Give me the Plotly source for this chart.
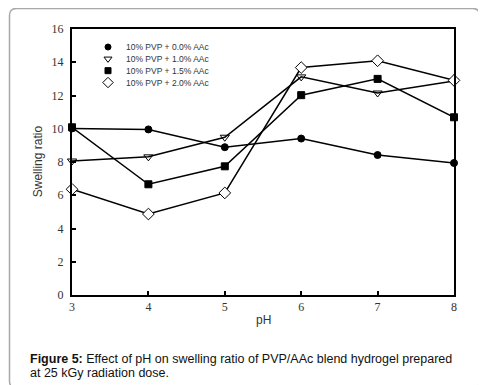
import plotly.graph_objects as go

ph = [3, 4, 5, 6, 7, 8]
aac_0_0 = [10.02, 9.96, 8.89, 9.41, 8.42, 7.94]
aac_1_0 = [8.06, 8.31, 9.49, 13.12, 12.15, 12.87]
aac_1_5 = [10.09, 6.66, 7.74, 12.02, 13.0, 10.69]
aac_2_0 = [6.36, 4.87, 6.14, 13.68, 14.09, 12.91]
names = ["10% PVP + 0.0% AAc", "10% PVP + 1.0% AAc", "10% PVP + 1.5% AAc", "10% PVP + 2.0% AAc"]
y_ticks = [0, 2, 4, 6, 8, 10, 12, 14, 16]
x_ticks = [3, 4, 5, 6, 7, 8]

styles = [
    dict(symbol="circle", size=7, color="black", line=dict(color="black", width=1)),
    dict(symbol="triangle-down-open", size=8, color="black", line=dict(color="black", width=1)),
    dict(symbol="square", size=7, color="black", line=dict(color="black", width=1)),
    dict(symbol="diamond", size=9, color="white", line=dict(color="black", width=1)),
]
leg_styles = [
    dict(symbol="circle", size=6, color="black", line=dict(color="black", width=1)),
    dict(symbol="triangle-down-open", size=7, color="black", line=dict(color="black", width=1)),
    dict(symbol="square", size=6, color="black", line=dict(color="black", width=1)),
    dict(symbol="diamond", size=8, color="white", line=dict(color="black", width=1)),
]
series = [aac_0_0, aac_1_0, aac_1_5, aac_2_0]

fig = go.Figure()
for ys, st, nm in zip(series, styles, names):
    fig.add_trace(go.Scatter(x=ph, y=ys, mode="lines+markers", name=nm,
                             line=dict(color="black", width=1.5),
                             marker=st, cliponaxis=False, showlegend=False))

# window-pixel -> paper helpers (page body has an 8px margin)
W, H = 382.0, 258.5
def px(x): return round((x - 72) / W, 5)
def py(y): return round((287 - y) / H, 5)

# custom legend (plotly's own legend rows are too tall)
leg_rows = [46, 57.5, 69, 80.5]
for row, st, nm in zip(leg_rows, leg_styles, names):
    fig.add_trace(go.Scatter(x=[px(108)], y=[py(row)], mode="markers", marker=st,
                             xaxis="x2", yaxis="y2", showlegend=False, cliponaxis=False,
                             hoverinfo="skip"))
    fig.add_annotation(x=px(124), y=py(row), xref="paper", yref="paper", text=nm,
                       showarrow=False, xanchor="left", yanchor="middle",
                       font=dict(family="Liberation Sans, Arial", size=8.5, color="#333"))

tickfont = dict(family="Liberation Serif, Times New Roman, serif", size=12, color="#333")
fig.update_layout(
    width=478, height=377,
    margin=dict(l=64, r=32, t=20.5, b=90),
    paper_bgcolor="white", plot_bgcolor="white",
    xaxis=dict(range=[3, 8], tickvals=x_ticks, ticks="inside", ticklen=4, tickwidth=1.5,
               tickcolor="black", showline=True, linecolor="black", linewidth=2, mirror=True,
               showgrid=False, zeroline=False, tickfont=tickfont),
    yaxis=dict(range=[0, 16], tickvals=y_ticks, ticks="inside", ticklen=4, tickwidth=1.5,
               tickcolor="black", showline=True, linecolor="black", linewidth=2, mirror=True,
               showgrid=False, zeroline=False, ticklabelstandoff=4, tickfont=tickfont),
    xaxis2=dict(range=[0, 1], overlaying="x", visible=False, fixedrange=True),
    yaxis2=dict(range=[0, 1], overlaying="y", visible=False, fixedrange=True),
)

fig.add_annotation(x=px(38), y=py(157), xref="paper", yref="paper", text="Swelling ratio",
                   textangle=-90, showarrow=False, xanchor="center", yanchor="middle",
                   font=dict(family="Liberation Sans, Arial", size=12, color="#333"))
fig.add_annotation(x=px(263), y=py(311), xref="paper", yref="paper", text="pH",
                   showarrow=False, xanchor="center", yanchor="middle",
                   font=dict(family="Liberation Sans, Arial", size=12, color="#333"))

fig.add_annotation(x=px(28), y=py(349), xref="paper", yref="paper",
                   text="<b>Figure 5:</b> Effect of pH on swelling ratio of PVP/AAc blend hydrogel prepared",
                   showarrow=False, xanchor="left", yanchor="middle",
                   font=dict(family="Liberation Sans, Arial", size=12.5, color="#111"))
fig.add_annotation(x=px(28), y=py(363), xref="paper", yref="paper",
                   text="at 25 kGy radiation dose.",
                   showarrow=False, xanchor="left", yanchor="middle",
                   font=dict(family="Liberation Sans, Arial", size=12.5, color="#111"))

# frame around the figure (rounded corners) in figure-relative paper coords
L, R, T, B, r = 9.5, 479.5, 8.5, 377.5, 7
path = (f"M{px(L + r)},{py(T)}L{px(R - r)},{py(T)}Q{px(R)},{py(T)} {px(R)},{py(T + r)}"
        f"L{px(R)},{py(B - r)}Q{px(R)},{py(B)} {px(R - r)},{py(B)}"
        f"L{px(L + r)},{py(B)}Q{px(L)},{py(B)} {px(L)},{py(B - r)}"
        f"L{px(L)},{py(T + r)}Q{px(L)},{py(T)} {px(L + r)},{py(T)}Z")
fig.add_shape(type="path", path=path, xref="paper", yref="paper",
              line=dict(color="#a8a8a8", width=1.5), fillcolor="rgba(0,0,0,0)", layer="above")

fig.write_html("out.html")
